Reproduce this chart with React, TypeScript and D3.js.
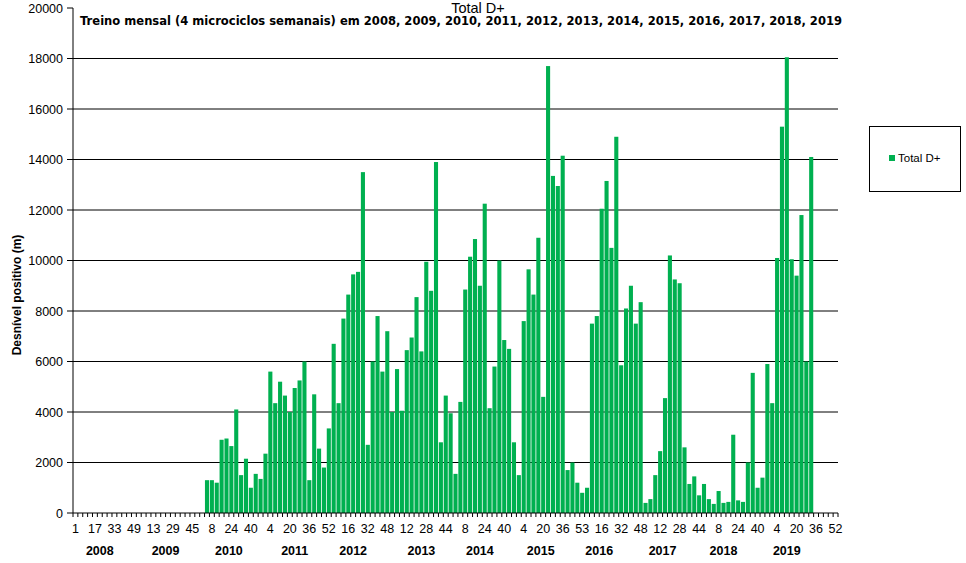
import React from "react";
import * as d3 from "d3";

// ---------------------------------------------------------------------------
// Data: monthly (4-week) positive elevation gain, 2008 → 2019
// ---------------------------------------------------------------------------

const CATEGORY_COUNT = 157;
const LEADING_EMPTY = 27; // 2008 / 2009 months without data

const totalD = [
  1300, 1300, 1200, 2900, 2950, 2650, 4100, 1500, 2150, 1000, 1550, 1350, 2350, 5600, 4350, 5200, 4650, 4000, 4950, 5250, 6000,
  1300, 4700, 2550, 1800, 3350, 6700, 4350, 7700, 8650, 9450, 9550, 13500, 2700, 6000, 7800, 5600, 7200, 4000, 5700, 4050, 6450,
  6950, 8550, 6400, 9950, 8800, 13900, 2800, 4650, 3950, 1550, 4400, 8850, 10150, 10850, 9000, 12250, 4150, 5800, 10000, 6850,
  6500, 2800, 1500, 7600, 9650, 8650, 10900, 4600, 17700, 13350, 12950, 14150, 1700, 2000, 1200, 800, 1000, 7500, 7800, 12050, 13150,
  10500, 14900, 5850, 8100, 9000, 7500, 8350, 400, 550, 1500, 2450, 4550, 10200, 9250, 9100, 2600, 1150, 1450, 700, 1150,
  550, 360, 870, 400, 440, 3100, 500, 440, 2000, 5550, 1000, 1400, 5900, 4350, 10100, 15300, 18050, 10050, 9400, 11800, 6000, 14100,
];

// week label shown under every 4th category
const weekTicks = [
  "1", "17", "33", "49", "13", "29", "45", "8", "24", "40",
  "4", "20", "36", "52", "16", "32", "48", "12", "28", "44",
  "8", "24", "40", "4", "20", "36", "53", "16", "32", "48",
  "12", "28", "44", "8", "24", "40", "4", "20", "36", "52",
];

const years = ["2008", "2009", "2010", "2011", "2012", "2013", "2014", "2015", "2016", "2017", "2018", "2019"];
// category under which each year label sits
const yearAt = [5, 18.5, 31.5, 45, 57, 71, 83, 95.5, 107.5, 120.5, 133, 146];

const yTicks = [0, 2000, 4000, 6000, 8000, 10000, 12000, 14000, 16000, 18000, 20000];

const GREEN = "#00b050";
const FONT = "Arial, 'Liberation Sans', sans-serif";

export default function App() {
  const width = 966;
  const height = 563;
  const left = 73;
  const right = 838;
  const top = 8;
  const bottom = 513;

  const values: (number | null)[] = d3.range(CATEGORY_COUNT).map((i) => {
    const k = i - LEADING_EMPTY;
    return k >= 0 && k < totalD.length ? totalD[k] : null;
  });

  const x = d3
    .scaleBand<number>()
    .domain(d3.range(CATEGORY_COUNT))
    .range([left, right])
    .paddingInner(0.16)
    .paddingOuter(0.08);
  const catW = (right - left) / CATEGORY_COUNT;
  const catStart = (i: number) => left + i * catW;
  const catCenter = (i: number) => catStart(i) + catW / 2;

  const y = d3.scaleLinear().domain([0, 20000]).range([bottom, top]);

  return (
    <svg
      width={width}
      height={height}
      style={{ position: "fixed", left: 0, top: 0, background: "#fff" }}
      fontFamily={FONT}
    >
      <rect width={width} height={height} fill="#fff" />

      {/* titles */}
      <text x={478} y={13} textAnchor="middle" fontSize={14.5} fill="#000">
        Total D+
      </text>
      <text
        x={80}
        y={25}
        fontSize={12.5}
        fontWeight="bold"
        fontFamily="'DejaVu Sans', Verdana, sans-serif"
        textLength={762}
        lengthAdjust="spacingAndGlyphs"
        fill="#000"
      >
        Treino mensal (4 microciclos semanais) em 2008, 2009, 2010, 2011, 2012, 2013, 2014, 2015, 2016, 2017, 2018, 2019
      </text>

      {/* gridlines */}
      {yTicks
        .filter((t) => t > 0 && t < 20000)
        .map((t) => (
          <line key={`g${t}`} x1={left} x2={right} y1={y(t)} y2={y(t)} stroke="#000" strokeWidth={1} />
        ))}

      {/* bars */}
      {values.map((v, i) =>
        v == null ? null : (
          <rect
            key={`b${i}`}
            x={x(i)}
            y={y(v)}
            width={x.bandwidth()}
            height={bottom - y(v)}
            fill={GREEN}
          />
        )
      )}

      {/* y axis */}
      <line x1={left} x2={left} y1={top} y2={bottom} stroke="#000" />
      {yTicks.map((t) => (
        <g key={`y${t}`}>
          <line x1={left - 6} x2={left} y1={y(t)} y2={y(t)} stroke="#000" />
          <text x={63} y={y(t) + 4.5} textAnchor="end" fontSize={12.5} fill="#000">
            {t}
          </text>
        </g>
      ))}
      <text
        transform={`translate(21,295) rotate(-90)`}
        textAnchor="middle"
        fontSize={12}
        fontWeight="bold"
        fill="#000"
      >
        Desnível positivo (m)
      </text>

      {/* x axis */}
      <line x1={left} x2={right} y1={bottom} y2={bottom} stroke="#000" />
      {d3.range(CATEGORY_COUNT + 1).map((i) => (
        <line
          key={`xt${i}`}
          x1={catStart(i)}
          x2={catStart(i)}
          y1={bottom}
          y2={bottom + 4}
          stroke="#000"
        />
      ))}
      {weekTicks.map((lab, j) => (
        <text
          key={`w${j}`}
          x={catCenter(j * 4)}
          y={533}
          textAnchor="middle"
          fontSize={12.5}
          fill="#000"
        >
          {lab}
        </text>
      ))}
      {years.map((yr, j) => (
        <text
          key={`yr${yr}`}
          x={catCenter(yearAt[j])}
          y={555}
          textAnchor="middle"
          fontSize={12.5}
          fontWeight="bold"
          fill="#000"
        >
          {yr}
        </text>
      ))}

      {/* legend */}
      <rect x={869.5} y={126.5} width={91} height={65} fill="#fff" stroke="#000" />
      <rect x={889} y={155} width={6} height={6} fill={GREEN} />
      <text x={898} y={162} fontSize={11.5} fill="#000">
        Total D+
      </text>
    </svg>
  );
}
